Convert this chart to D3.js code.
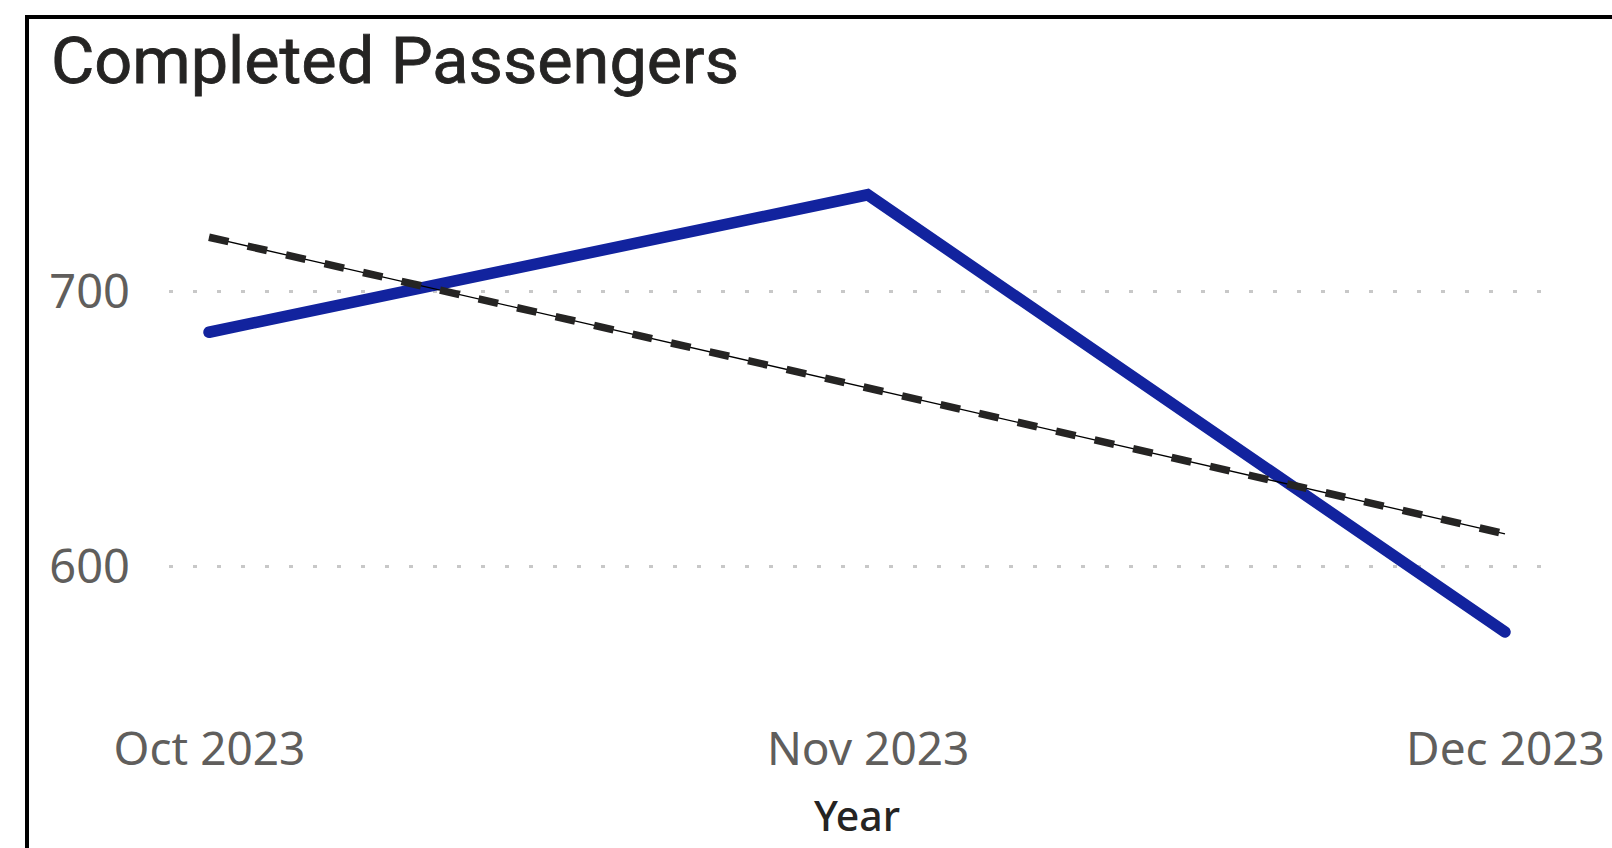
<!DOCTYPE html>
<html>
<head>
<meta charset="utf-8">
<script src="https://cdn.jsdelivr.net/npm/d3@7"></script>
<style>
  html, body { margin: 0; padding: 0; background: #fff; }
  svg { display: block; }
</style>
</head>
<body>
<svg id="chart" width="1612" height="848"></svg>
<script>
// ---- data ----
const months = ["2023-10-01", "2023-11-01", "2023-12-01"];
const monthLabels = ["Oct 2023", "Nov 2023", "Dec 2023"];
const passengers = [685, 735, 576];
const yTicks = [600, 700];
const title = "Completed Passengers";
const xAxisTitle = "Year";

const parse = d3.timeParse("%Y-%m-%d");
const dates = months.map(parse);
const data = dates.map((d, i) => ({ date: d, value: passengers[i] }));

const svg = d3.select("#chart");

// border frame
svg.append("rect")
  .attr("x", 27).attr("y", 17)
  .attr("width", 1700).attr("height", 1000)
  .attr("fill", "none").attr("stroke", "#000").attr("stroke-width", 4);

// title
svg.append("text")
  .attr("x", 51).attr("y", 83)
  .attr("font-family", "Roboto, 'DejaVu Sans', sans-serif")
  .attr("font-size", 65)
  .attr("font-weight", 400)
  .attr("stroke", "#252423")
  .attr("stroke-width", 0.8)
  .attr("fill", "#252423")
  .attr("textLength", 688)
  .attr("lengthAdjust", "spacingAndGlyphs")
  .text(title);

// scales
const x = d3.scaleTime()
  .domain([dates[0], dates[dates.length - 1]])
  .range([209, 1505]);
const y = d3.scaleLinear()
  .domain([600, 700])
  .range([566, 291]);

const gridX0 = 169, gridX1 = 1542;

// y gridlines + labels via axis
const yAxis = d3.axisLeft(y)
  .tickValues(yTicks)
  .tickSize(-(gridX1 - gridX0))
  .tickFormat(d3.format("d"));
const gy = svg.append("g")
  .attr("transform", `translate(${gridX0},0)`)
  .call(yAxis);
gy.select(".domain").remove();
gy.selectAll(".tick line")
  .attr("stroke", "#c8c8c8")
  .attr("stroke-width", 3)
  .attr("stroke-dasharray", "4,20")
  .attr("x1", 0).attr("x2", gridX1 - gridX0);
gy.selectAll(".tick text")
  .attr("x", 130 - gridX0)
  .attr("dy", "0.35em")
  .attr("font-family", "'Segoe UI', 'Noto Sans', sans-serif")
  .attr("font-size", 47)
  .attr("fill", "#605E5C");

// x axis labels
const xAxis = d3.axisBottom(x)
  .tickValues(dates)
  .tickSize(0)
  .tickFormat((d, i) => monthLabels[i]);
const gx = svg.append("g")
  .attr("transform", "translate(0,700)")
  .call(xAxis);
gx.select(".domain").remove();
gx.selectAll(".tick text")
  .attr("y", 65)
  .attr("dy", 0)
  .attr("font-family", "'Segoe UI', 'Noto Sans', sans-serif")
  .attr("font-size", 46)
  .attr("fill", "#605E5C");

// x axis title
svg.append("text")
  .attr("x", 857).attr("y", 831)
  .attr("text-anchor", "middle")
  .attr("font-family", "'Segoe UI', 'Noto Sans', sans-serif")
  .attr("font-size", 41)
  .attr("font-weight", 500)
  .attr("fill", "#252423")
  .text(xAxisTitle);

// main line
const line = d3.line().x(d => x(d.date)).y(d => y(d.value));
svg.append("path")
  .datum(data)
  .attr("d", line)
  .attr("fill", "none")
  .attr("stroke", "#12239E")
  .attr("stroke-width", 11.5)
  .attr("stroke-linecap", "round")
  .attr("stroke-linejoin", "miter");

// linear trend line (least squares on time)
const xs = data.map(d => +d.date);
const ys = data.map(d => d.value);
const mx = d3.mean(xs), my = d3.mean(ys);
const sxy = d3.sum(xs.map((v, i) => (v - mx) * (ys[i] - my)));
const sxx = d3.sum(xs.map(v => (v - mx) * (v - mx)));
const slope = sxy / sxx, intercept = my - slope * mx;
const trend = [dates[0], dates[dates.length - 1]].map(d => ({ date: d, value: intercept + slope * (+d) }));

svg.append("path")
  .datum(trend)
  .attr("d", line)
  .attr("fill", "none")
  .attr("stroke", "#000")
  .attr("stroke-width", 1.3);
svg.append("path")
  .datum(trend)
  .attr("d", line)
  .attr("fill", "none")
  .attr("stroke", "#252423")
  .attr("stroke-width", 7.5)
  .attr("stroke-dasharray", "20,19.5");
</script>
</body>
</html>
